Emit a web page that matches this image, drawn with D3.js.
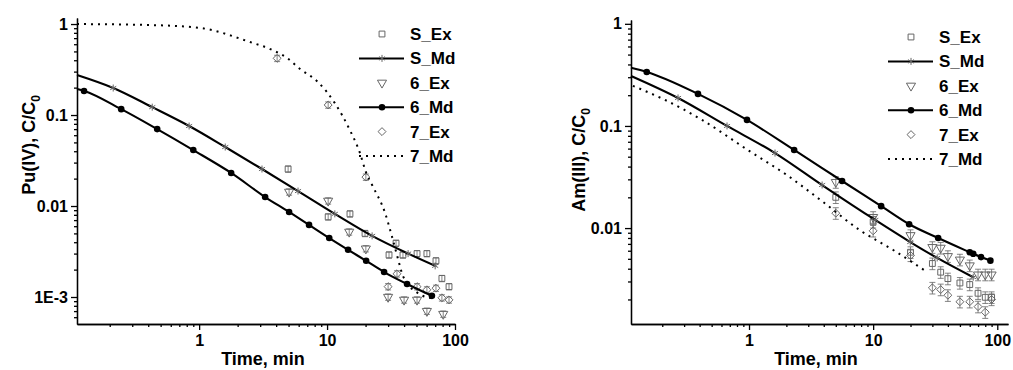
<!DOCTYPE html>
<html>
<head>
<meta charset="utf-8">
<script src="https://cdn.jsdelivr.net/npm/d3@7"></script>
<style>
  body { margin: 0; background: #fff; }
  svg { display: block; font-family: "Liberation Sans", Arial, sans-serif; font-weight: bold; }
  .axis path, .axis line { stroke: #000; stroke-width: 1.3; }
  .axis text { font-family: "Liberation Sans", Arial, sans-serif; font-size: 16px; font-weight: bold; fill: #000; }
</style>
</head>
<body>
<svg id="chart" width="1013" height="370"></svg>
<script>
// ---- Pu(IV) panel, [time min, C/C0] ----
const puSEx = [[4.96, 0.0255], [10.2, 0.0076], [15.1, 0.0082], [19.8, 0.0050], [30.5, 0.0029], [34.6, 0.0039],
  [39.2, 0.0029], [50.5, 0.0030], [60.3, 0.0030], [71, 0.0025], [79, 0.0016], [89.8, 0.0013]];
const puSMd = [[0.111, 0.275], [0.213, 0.198], [0.43, 0.122], [0.835, 0.0757], [1.6, 0.0445], [3.1, 0.0255],
  [5.93, 0.0146], [11.5, 0.0082], [22.5, 0.0047], [43, 0.0030], [70, 0.0022]];
const pu6Ex = [[5.05, 0.0143], [10.2, 0.0114], [14.9, 0.0052], [20.1, 0.0034], [30, 0.0010], [40, 0.00093],
  [50.5, 0.00093], [60.3, 0.0007], [80.9, 0.00065]];
const pu6Md = [[0.111, 0.193], [0.126, 0.184], [0.246, 0.116], [0.47, 0.070], [0.90, 0.0412], [1.78, 0.0231],
  [3.28, 0.01256], [5.05, 0.0086], [7.23, 0.0062], [10.4, 0.00445], [14.6, 0.0033], [20.2, 0.0025],
  [27.9, 0.00188], [42.2, 0.00139], [66, 0.00103]];
const pu7Ex = [[4.07, 0.42], [10.2, 0.129], [20.1, 0.0208], [30, 0.0013], [35.2, 0.0018], [50.5, 0.0013],
  [60.3, 0.0012], [71, 0.00125], [79, 0.00098], [89.8, 0.00093]];
const pu7Md = [[0.111, 1.0], [0.414, 0.975], [1.02, 0.905], [2.5, 0.634], [3.59, 0.531], [4.87, 0.423],
  [6.15, 0.32], [8.5, 0.23], [11.5, 0.135], [15.1, 0.068], [18.1, 0.038], [20.1, 0.0237], [22.5, 0.017],
  [28.4, 0.0084], [32.2, 0.0046], [35.9, 0.0026], [39.2, 0.0017], [51.4, 0.0011], [66, 0.00097]];

// ---- Am(III) panel ----
const amSEx = [[5, 0.020], [10, 0.0115], [20, 0.0058], [30, 0.0045], [35, 0.0037], [40, 0.0032], [50, 0.0029],
  [60, 0.0028], [70, 0.0023], [80, 0.0021], [90, 0.0021]];
const amSMd = [[0.112, 0.309], [0.268, 0.188], [0.665, 0.1], [1.62, 0.0543], [3.88, 0.0264], [10.4, 0.012],
  [19.9, 0.0073], [32.8, 0.0051], [64, 0.0033]];
const am6Ex = [[5, 0.0282], [10, 0.0128], [20, 0.0085], [30, 0.0065], [35, 0.0064], [40, 0.0053], [50, 0.0049],
  [60, 0.0043], [70, 0.0035], [80, 0.0035], [90, 0.0035]];
const am6Md = [[0.112, 0.371], [0.150, 0.338], [0.388, 0.206], [0.963, 0.1146], [2.31, 0.0582], [5.62, 0.0289],
  [11.6, 0.0164], [19.5, 0.0109], [33.4, 0.0080], [60, 0.0058], [64, 0.0056], [74, 0.0052], [88, 0.0048]];
const am7Ex = [[5, 0.014], [10, 0.0094], [20, 0.0054], [30, 0.0026], [35, 0.0025], [40, 0.0022], [50, 0.0019],
  [60, 0.0019], [70, 0.0017], [80, 0.0015], [90, 0.0020]];
const am7Md = [[0.116, 0.247], [0.21, 0.18], [0.418, 0.1146], [0.98, 0.058], [2.02, 0.033], [3.95, 0.018],
  [7.85, 0.0095], [14.5, 0.0061], [27.3, 0.0037]];

const legendNames = ["S_Ex", "S_Md", "6_Ex", "6_Md", "7_Ex", "7_Md"];
const relErr = 0.13;

const svg = d3.select("#chart");
const grey = "#666";

const symDown = d3.symbol().type(d3.symbolTriangle).size(36);
const symSquare = d3.symbol().type(d3.symbolSquare).size(34);
const symDiamond = d3.symbol().type(d3.symbolDiamond2 || d3.symbolDiamond).size(40);
const symStar = d3.symbol().type(d3.symbolAsterisk || d3.symbolCross).size(34);

function marker(g, kind, x, y) {
  if (kind === "dot") {
    g.append("circle").attr("cx", x).attr("cy", y).attr("r", 3.3).attr("fill", "#000");
    return;
  }
  const path = g.append("path").attr("fill", "none").attr("stroke", grey).attr("stroke-width", 1);
  if (kind === "square") path.attr("d", symSquare()).attr("transform", `translate(${x},${y})`);
  if (kind === "down") path.attr("d", symDown()).attr("transform", `translate(${x},${y}) rotate(180)`);
  if (kind === "diamond") path.attr("d", symDiamond()).attr("transform", `translate(${x},${y})`);
  if (kind === "star") path.attr("d", symStar()).attr("transform", `translate(${x},${y})`);
}

function drawPanel(p) {
  const x = d3.scaleLog().domain(p.xDomain).range([p.left, p.right]);
  const y = d3.scaleLog().domain(p.yDomain).range([p.bottom, p.top]);
  const g = svg.append("g");

  const xMajor = [1, 10, 100];
  const xMinor = x.ticks().filter(v => !xMajor.some(m => Math.abs(m - v) < 1e-9) && v >= p.xDomain[0]);
  const yMinor = y.ticks().filter(v => !p.yTicks.some(m => Math.abs(m - v) / m < 1e-6));

  g.append("g").attr("class", "axis")
    .attr("transform", `translate(0,${p.bottom})`)
    .call(d3.axisBottom(x).tickValues(xMinor).tickSize(3).tickSizeOuter(0).tickFormat(""));
  g.append("g").attr("class", "axis")
    .attr("transform", `translate(0,${p.bottom})`)
    .call(d3.axisBottom(x).tickValues(xMajor).tickSize(6).tickSizeOuter(0).tickPadding(5).tickFormat(d3.format("d")));
  g.append("g").attr("class", "axis")
    .attr("transform", `translate(${p.left},0)`)
    .call(d3.axisLeft(y).tickValues(yMinor).tickSize(3).tickSizeOuter(0).tickFormat(""));
  g.append("g").attr("class", "axis")
    .attr("transform", `translate(${p.left},0)`)
    .call(d3.axisLeft(y).tickValues(p.yTicks).tickSize(6).tickSizeOuter(0).tickPadding(3)
      .tickFormat(v => v === 0.001 ? "1E-3" : String(v)));

  const line = d3.line().x(d => x(d[0])).y(d => y(d[1])).curve(d3.curveMonotoneX);

  // experimental points with error bars
  p.ex.forEach(s => {
    const sg = g.append("g");
    s.data.forEach(d => {
      const cx = x(d[0]), lo = y(d[1] * (1 - p.err)), hi = y(d[1] * (1 + p.err));
      sg.append("path")
        .attr("d", `M${cx},${lo}V${hi}M${cx - 3},${lo}H${cx + 3}M${cx - 3},${hi}H${cx + 3}`)
        .attr("stroke", grey).attr("stroke-width", 0.8).attr("fill", "none");
      marker(sg, s.kind, cx, y(d[1]));
    });
  });

  // model curves
  p.md.forEach(s => {
    g.append("path").datum(s.data)
      .attr("d", line)
      .attr("fill", "none")
      .attr("stroke", "#000")
      .attr("stroke-width", s.dash ? 2 : 2.1)
      .attr("stroke-dasharray", s.dash ? "2,5" : null);
    if (s.kind) s.data.slice(1).forEach(d => marker(g, s.kind, x(d[0]), y(d[1])));
  });

  // axis titles
  g.append("text")
    .attr("x", p.xTitleX).attr("y", 365)
    .attr("text-anchor", "middle")
    .attr("font-size", 18)
    .text("Time, min");

  const yt = g.append("text")
    .attr("transform", `translate(${p.yTitleX},${p.yTitleY}) rotate(-90)`)
    .attr("text-anchor", "middle")
    .attr("font-size", 18);
  yt.append("tspan").text(p.yTitle + ", C/C");
  yt.append("tspan").attr("font-size", 12).attr("dy", 5).text("0");

  // legend
  const lg = g.append("g").attr("transform", `translate(${p.legendX},${p.legendY})`);
  const kinds = [
    { kind: "square" }, { kind: "star", line: true }, { kind: "down" },
    { kind: "dot", line: true }, { kind: "diamond" }, { dash: true }
  ];
  kinds.forEach((k, i) => {
    const cy = i * 24.4;
    if (k.line) lg.append("line").attr("x1", -23).attr("x2", 22).attr("y1", cy).attr("y2", cy)
      .attr("stroke", "#000").attr("stroke-width", 2);
    if (k.dash) lg.append("line").attr("x1", -23).attr("x2", 22).attr("y1", cy).attr("y2", cy)
      .attr("stroke", "#000").attr("stroke-width", 2).attr("stroke-dasharray", "2,5");
    if (k.kind) marker(lg, k.kind, 0, cy);
    lg.append("text").attr("x", 28).attr("y", cy + 6).attr("font-size", 17).text(legendNames[i]);
  });
}

drawPanel({
  left: 77, right: 455, top: 18, bottom: 324,
  xDomain: [0.111, 100], yDomain: [5.05e-4, 1.165],
  yTicks: [1, 0.1, 0.01, 0.001],
  err: 0.08,
  ex: [{ kind: "square", data: puSEx }, { kind: "down", data: pu6Ex }, { kind: "diamond", data: pu7Ex }],
  md: [{ kind: "star", data: puSMd }, { kind: "dot", data: pu6Md }, { dash: true, data: pu7Md }],
  xTitleX: 263, yTitleX: 35, yTitleY: 145, yTitle: "Pu(IV)",
  legendX: 382, legendY: 34
});

drawPanel({
  left: 631, right: 1008, top: 20, bottom: 324,
  xDomain: [0.112, 122], yDomain: [0.00115, 1.09],
  yTicks: [1, 0.1, 0.01],
  err: relErr,
  ex: [{ kind: "square", data: amSEx }, { kind: "down", data: am6Ex }, { kind: "diamond", data: am7Ex }],
  md: [{ kind: "star", data: amSMd }, { kind: "dot", data: am6Md }, { dash: true, data: am7Md }],
  xTitleX: 816, yTitleX: 585, yTitleY: 160, yTitle: "Am(III)",
  legendX: 911, legendY: 37
});
</script>
</body>
</html>
